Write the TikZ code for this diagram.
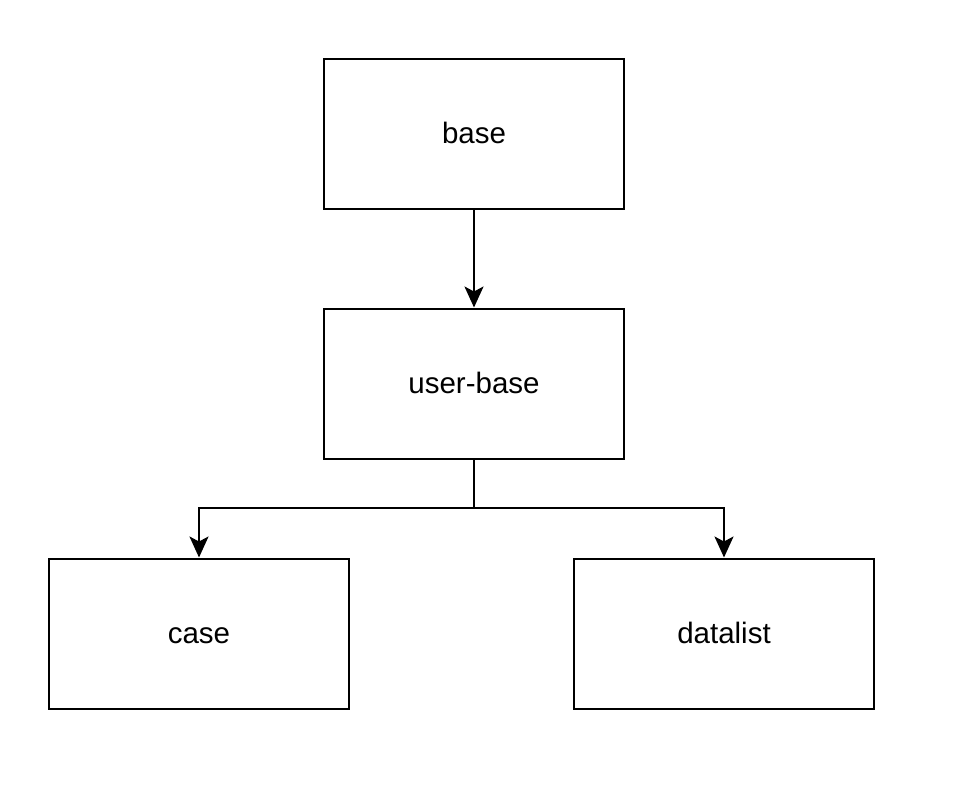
\documentclass[tikz,border=0pt]{standalone}
\usepackage{fontspec}
\setmainfont{Liberation Sans}
\usetikzlibrary{arrows.meta}
\begin{document}
\begin{tikzpicture}[x=1pt,y=-1pt,
  boxnode/.style={draw=black,line width=2pt,minimum width=300pt,minimum height=150pt,inner sep=0pt,
    font=\fontsize{29.5}{34}\selectfont,text height=20pt,text depth=0pt},
  conn/.style={line width=2pt,-{Stealth[length=21pt,width=19pt,inset=5pt]}}]
\useasboundingbox (0,0) rectangle (976,788);
\node[boxnode] (base) at (474,133.5) {base};
\node[boxnode] (user) at (474,383.5) {user-base};
\node[boxnode] (case) at (199,633.5) {case};
\node[boxnode] (data) at (724,633.5) {datalist};
\coordinate (split) at (474,508);
\draw[conn] (base) -- (user);
\draw[conn] (user.south) -- (split) -| (case.north);
\draw[conn] (split) -| (data.north);
\end{tikzpicture}
\end{document}
